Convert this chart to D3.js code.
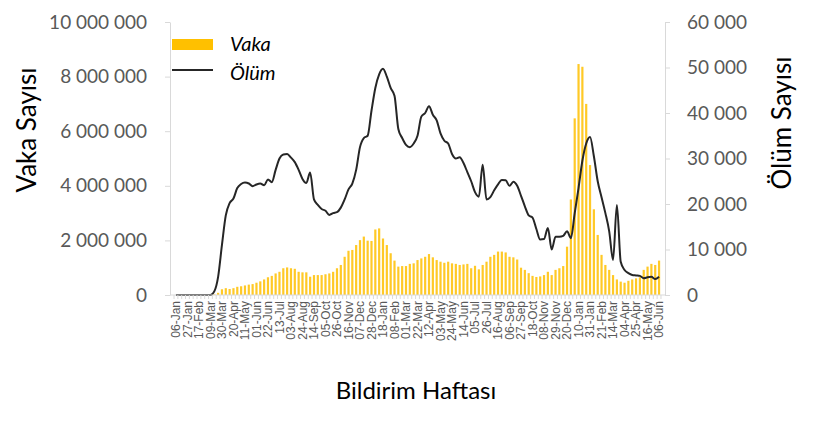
<!DOCTYPE html>
<html>
<head>
<meta charset="utf-8">
<script src="https://cdn.jsdelivr.net/npm/d3@7.9.0/dist/d3.min.js"></script>
<style>
  body { margin: 0; background: #fff; }
  svg { font-family: Lato, "Open Sans", sans-serif; }
</style>
</head>
<body>
<svg id="chart" width="828" height="425"></svg>
<script>
// weekly case counts (Vaka) and deaths (Ölüm), 06-Jan-2020 .. 06-Jun-2022
const cases = [
  0, 0, 0, 0, 0, 0, 0, 0, 0, 0,
  20000, 80000, 210000, 250000, 220000, 250000, 300000, 320000, 350000, 380000,
  400000, 450000, 500000, 570000, 650000, 700000, 790000, 850000, 980000, 1010000,
  980000, 960000, 850000, 830000, 830000, 670000, 730000, 730000, 730000, 760000,
  790000, 850000, 980000, 1100000, 1400000, 1620000, 1650000, 1830000, 2010000, 2140000,
  1990000, 1980000, 2400000, 2440000, 2070000, 1830000, 1530000, 1260000, 1040000, 1060000,
  1060000, 1140000, 1160000, 1280000, 1340000, 1400000, 1500000, 1380000, 1280000, 1220000,
  1180000, 1220000, 1160000, 1140000, 1100000, 1120000, 1140000, 980000, 1070000, 940000,
  1100000, 1220000, 1400000, 1470000, 1590000, 1590000, 1560000, 1400000, 1380000, 1300000,
  1000000, 920000, 800000, 700000, 660000, 680000, 730000, 850000, 730000, 920000,
  980000, 1060000, 1770000, 3500000, 6470000, 8460000, 8360000, 7000000, 4760000, 3140000,
  2200000, 1470000, 1100000, 920000, 730000, 570000, 490000, 450000, 520000, 570000,
  610000, 650000, 920000, 1040000, 1140000, 1100000, 1260000
];

const deaths = [
  0, 0, 0, 0, 0, 0, 0, 0, 0, 0,
  800, 4000, 11000, 17500, 20200, 21200, 23500, 24400, 24700, 24500,
  23900, 24300, 24500, 24100, 25400, 24800, 27500, 30000, 30900, 31000,
  30200, 29200, 27500, 25500, 24600, 26900, 21000, 19800, 18900, 18500,
  17600, 18000, 18200, 19200, 21000, 23200, 24500, 27500, 32500, 34500,
  35000, 40500, 45500, 48500, 49700, 48000, 45500, 43800, 36500, 34500,
  33000, 32500, 33300, 35000, 39200, 40000, 41500, 39600, 38400, 35500,
  33900, 33300, 31000, 30000, 30300, 29000, 27000, 25000, 22600, 21600,
  28600, 21000, 21500, 23000, 24300, 25300, 25200, 24000, 24900, 24000,
  21800, 19500, 17500, 17000, 14500, 12200, 12300, 14700, 10000, 12800,
  12800, 13000, 14000, 12500, 18000, 23500, 29500, 33300, 34700, 30500,
  25000, 21500, 18000, 14000, 7700, 19800, 7300, 5500, 4800, 4400,
  4300, 4200, 3700, 3900, 4000, 3500, 4000
];

// one label every third week
const tickLabels = [
  "06-Jan", "27-Jan", "17-Feb", "09-Mar", "30-Mar", "20-Apr", "11-May", "01-Jun",
  "22-Jun", "13-Jul", "03-Aug", "24-Aug", "14-Sep", "05-Oct", "26-Oct", "16-Nov",
  "07-Dec", "28-Dec", "18-Jan", "08-Feb", "01-Mar", "22-Mar", "12-Apr", "03-May",
  "24-May", "14-Jun", "05-Jul", "26-Jul", "16-Aug", "06-Sep", "27-Sep", "18-Oct",
  "08-Nov", "29-Nov", "20-Dec", "10-Jan", "31-Jan", "21-Feb", "14-Mar", "04-Apr",
  "25-Apr", "16-May", "06-Jun"
];
const caseTicks = [0, 2000000, 4000000, 6000000, 8000000, 10000000];
const deathTicks = [0, 10000, 20000, 30000, 40000, 50000, 60000];

const svg = d3.select('#chart');
const plotLeft = 170, plotRight = 665, plotTop = 22, plotBottom = 295;
const gridColor = '#d9d9d9';
const labelColor = '#595959';

const weeks = d3.range(cases.length);
const x = d3.scaleBand().domain(weeks).range([plotLeft, plotRight])
  .paddingInner(0).paddingOuter(1.05);
const yCases = d3.scaleLinear().domain([0, 10000000]).range([plotBottom, plotTop]);
const yDeaths = d3.scaleLinear().domain([0, 60000]).range([plotBottom, plotTop]);

const spaced = d3.format(',');
const fmt = (d) => spaced(d).replace(/,/g, ' ');

// --- bars
svg.append('g')
  .selectAll('rect')
  .data(cases)
  .join('rect')
  .attr('x', (d, i) => x(i) + x.bandwidth() / 2 - 1.1)
  .attr('width', 2.2)
  .attr('y', (d) => yCases(d))
  .attr('height', (d) => plotBottom - yCases(d))
  .attr('fill', '#ffc000')
  .attr('fill-opacity', 0.85);

// --- death line
const line = d3.line()
  .x((d, i) => x(i) + x.bandwidth() / 2)
  .y((d) => yDeaths(d))
  .curve(d3.curveMonotoneX);

svg.append('path')
  .datum(deaths)
  .attr('d', line)
  .attr('fill', 'none')
  .attr('stroke', '#262626')
  .attr('stroke-width', 2)
  .attr('stroke-linejoin', 'round');

// --- left axis
const gL = svg.append('g')
  .attr('transform', `translate(${plotLeft},0)`)
  .call(d3.axisLeft(yCases).tickValues(caseTicks).tickFormat(fmt)
    .tickSize(5).tickSizeOuter(0).tickPadding(18));

// --- right axis
const gR = svg.append('g')
  .attr('transform', `translate(${plotRight},0)`)
  .call(d3.axisRight(yDeaths).tickValues(deathTicks).tickFormat(fmt)
    .tickSize(5).tickSizeOuter(0).tickPadding(17));

[gL, gR].forEach((g) => {
  g.select('.domain').attr('stroke', gridColor);
  g.selectAll('.tick line').attr('stroke', gridColor);
  g.selectAll('.tick text')
    .attr('fill', labelColor)
    .style('font-size', '19px')
    .style('font-family', 'Lato, sans-serif');
});

// --- bottom axis: small ticks between weeks, labels every 3rd week
const gB = svg.append('g')
  .attr('transform', `translate(0,${plotBottom})`)
  .call(d3.axisBottom(x)
    .tickValues(weeks.filter((i) => i % 3 === 0))
    .tickFormat((i) => tickLabels[i / 3])
    .tickSize(0).tickSizeOuter(0).tickPadding(6));

gB.select('.domain').attr('stroke', gridColor).attr('d', `M${plotLeft},0H${plotRight}`);
gB.selectAll('.tick text')
  .attr('fill', labelColor)
  .style('font-size', '12px')
  .attr('transform', 'rotate(-90)')
  .attr('text-anchor', 'end')
  .attr('dy', '0.35em')
  .attr('x', -6)
  .attr('y', 0);

gB.append('g')
  .selectAll('line')
  .data(weeks.concat([weeks.length]))
  .join('line')
  .attr('x1', (i) => (i < weeks.length ? x(i) : x(weeks.length - 1) + x.bandwidth()))
  .attr('x2', (i) => (i < weeks.length ? x(i) : x(weeks.length - 1) + x.bandwidth()))
  .attr('y1', 0)
  .attr('y2', 4)
  .attr('stroke', gridColor)
  .attr('stroke-width', 1);

// --- axis titles
svg.append('text')
  .attr('transform', 'translate(36,130) rotate(-90)')
  .attr('text-anchor', 'middle')
  .style('font-size', '26px')
  .attr('fill', '#000')
  .text('Vaka Sayısı');

svg.append('text')
  .attr('transform', 'translate(791,123) rotate(-90)')
  .attr('text-anchor', 'middle')
  .style('font-size', '26px')
  .attr('fill', '#000')
  .text('Ölüm Sayısı');

svg.append('text')
  .attr('x', 416)
  .attr('y', 399)
  .attr('text-anchor', 'middle')
  .style('font-size', '24px')
  .attr('fill', '#000')
  .text('Bildirim Haftası');

// --- legend
const legend = svg.append('g');
legend.append('rect')
  .attr('x', 172).attr('y', 39).attr('width', 41).attr('height', 11)
  .attr('fill', '#ffc000');
legend.append('line')
  .attr('x1', 172).attr('x2', 213).attr('y1', 70).attr('y2', 70)
  .attr('stroke', '#262626').attr('stroke-width', 2);
legend.selectAll('text')
  .data(['Vaka', 'Ölüm'])
  .join('text')
  .attr('x', 230)
  .attr('y', (d, i) => (i === 0 ? 51 : 80))
  .style('font-size', '20px')
  .style('font-style', 'italic')
  .attr('fill', '#000')
  .text((d) => d);
</script>
</body>
</html>
